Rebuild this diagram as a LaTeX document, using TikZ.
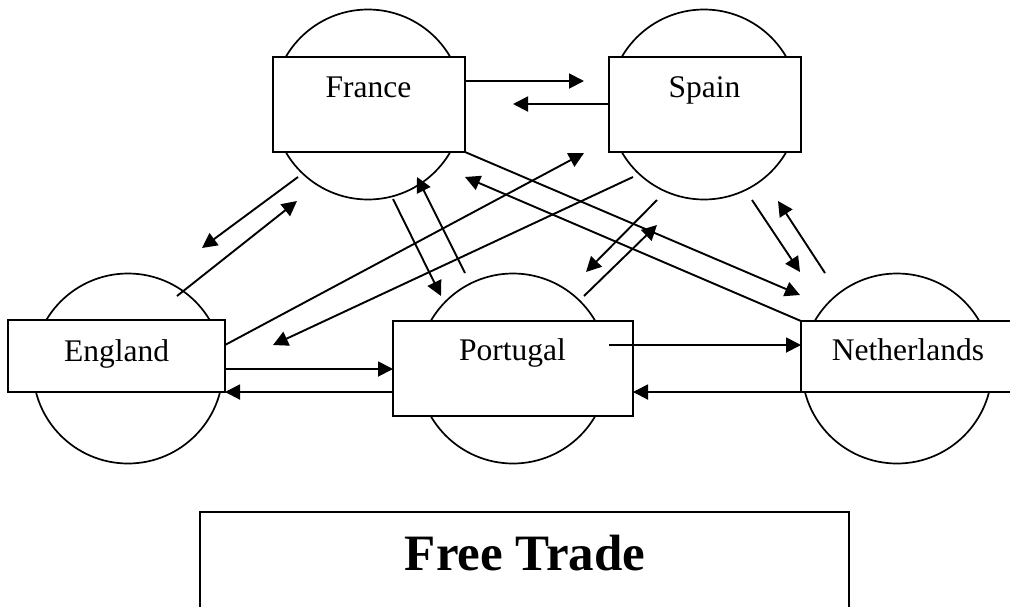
\documentclass[tikz,border=0pt]{standalone}
\usepackage{fontspec}
\setmainfont{Liberation Serif}
\usetikzlibrary{arrows.meta}
\begin{document}
\begin{tikzpicture}[x=1pt,y=-1pt,
  ring/.style={draw,circle,line width=1.7pt,minimum size=190pt,inner sep=0pt},
  cbox/.style={draw,fill=white,line width=2pt,inner sep=0pt},
  lbl/.style={anchor=base,inner sep=0pt,font=\fontsize{31.5}{36}\selectfont},
  flow/.style={line width=1.9pt,-{Triangle[length=15pt,width=15pt]}}]
\useasboundingbox (0,0) rectangle (1010,606);
\clip (0,0) rectangle (1010,606);
% circles
\node[ring] (Fc) at (368,104.5) {};
\node[ring] (Sc) at (704,104.5) {};
\node[ring] (Ec) at (128,368.5) {};
\node[ring] (Pc) at (513,368.5) {};
\node[ring] (Nc) at (897,368.5) {};
% boxes
\node[cbox,minimum width=192pt,minimum height=95pt] (F) at (369,104.5) {};
\node[cbox,minimum width=192pt,minimum height=95pt] (S) at (705,104.5) {};
\node[cbox,minimum width=217pt,minimum height=72pt] (E) at (116.5,356) {};
\node[cbox,minimum width=240pt,minimum height=95pt] (P) at (513,368.5) {};
\node[cbox,minimum width=214pt,minimum height=71pt] (N) at (908,356.5) {};
\node[cbox,minimum width=649pt,minimum height=138pt] (T) at (524.5,581) {};
% labels
\node[lbl] (Ft) at (368.5,97) {France};
\node[lbl] (St) at (704.5,97) {Spain};
\node[lbl] (Et) at (116.7,361) {England};
\node[lbl] (Pt) at (512.5,360) {Portugal};
\node[lbl] (Nt) at (908,360) {Netherlands};
\node[anchor=base,inner sep=0pt,font=\fontsize{51}{58}\selectfont\bfseries] (Tt) at (525,570) {Free Trade};
% arrow end points
\coordinate (a1s) at (465,81);    \coordinate (a1e) at (584,81);
\coordinate (a2s) at (609,104);   \coordinate (a2e) at (513,104);
\coordinate (a3s) at (298,177);   \coordinate (a3e) at (202,248);
\coordinate (a4s) at (177,296);   \coordinate (a4e) at (297,201);
\coordinate (a5s) at (393,199);   \coordinate (a5e) at (441,296);
\coordinate (a6s) at (465,273);   \coordinate (a6e) at (417,177);
\coordinate (a7s) at (465,152);   \coordinate (a7e) at (800,295);
\coordinate (a8s) at (801,321);   \coordinate (a8e) at (465,177);
\coordinate (a9s) at (225,345);   \coordinate (a9e) at (584,153);
\coordinate (a10s) at (633,177);  \coordinate (a10e) at (273,345);
\coordinate (a11s) at (657,200);  \coordinate (a11e) at (586,272);
\coordinate (a12s) at (584,296);  \coordinate (a12e) at (657,225);
\coordinate (a13s) at (752,200);  \coordinate (a13e) at (800,272);
\coordinate (a14s) at (825,273);  \coordinate (a14e) at (778,201);
\coordinate (a15s) at (225,369);  \coordinate (a15e) at (393,369);
\coordinate (a16s) at (393,392);  \coordinate (a16e) at (225,392);
\coordinate (a17s) at (609,345);  \coordinate (a17e) at (801,345);
\coordinate (a18s) at (801,392);  \coordinate (a18e) at (633,392);
\foreach \i in {1,...,18} {\draw[flow] (a\i s) -- (a\i e);}
\end{tikzpicture}
\end{document}
